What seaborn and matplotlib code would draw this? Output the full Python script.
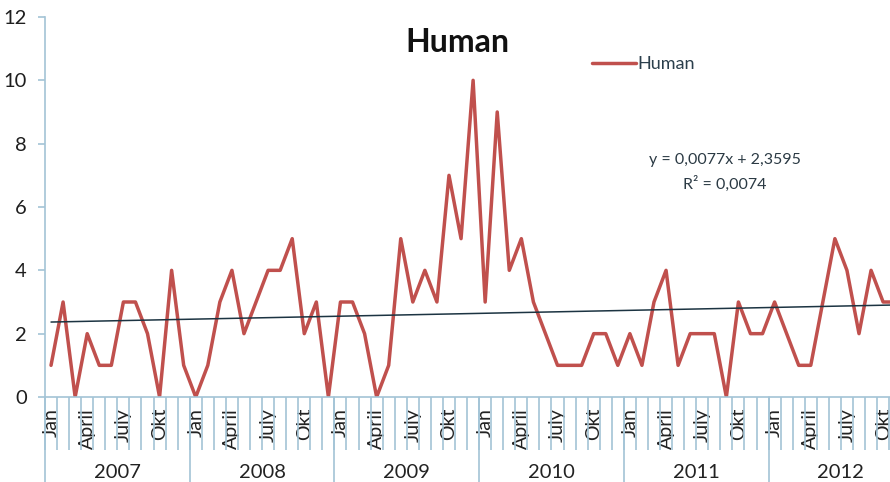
import numpy as np
import pandas as pd
import matplotlib
matplotlib.use("Agg")
import matplotlib.pyplot as plt
import matplotlib.transforms as mtransforms
import seaborn as sns

# ---- data ----
years = ["2007", "2008", "2009", "2010", "2011", "2012"]
month_labels = ["Jan", "April", "July", "Okt"]
values_2007 = [1, 3, 0, 2, 1, 1, 3, 3, 2, 0, 4, 1]
values_2008 = [0, 1, 3, 4, 2, 3, 4, 4, 5, 2, 3, 0]
values_2009 = [3, 3, 2, 0, 1, 5, 3, 4, 3, 7, 5, 10]
values_2010 = [3, 9, 4, 5, 3, 2, 1, 1, 1, 2, 2, 1]
values_2011 = [2, 1, 3, 4, 1, 2, 2, 2, 0, 3, 2, 2]
values_2012 = [3, 2, 1, 1, 3, 5, 4, 2, 4, 3, 3]
trend_slope = [0.0077]
trend_intercept = [2.3595]
eq_text = ["y = 0,0077x + 2,3595", "R\u00b2 = 0,0074"]

human = values_2007 + values_2008 + values_2009 + values_2010 + values_2011 + values_2012
df = pd.DataFrame({"idx": np.arange(len(human)), "Human": human})

sns.set_style("white")
plt.rcParams["font.family"] = ["Lato", "DejaVu Sans"]

W, H = 890, 482
fig = plt.figure(figsize=(W / 100, H / 100), dpi=100)
ax = fig.add_axes([45 / W, 85 / H, 845 / W, 380 / H])

axis_col = "#a3c4d6"
red = "#c0504d"

sns.lineplot(data=df, x="idx", y="Human", ax=ax, color=red, linewidth=2.5,
             label="Human", legend=False)

# linear trend line (Excel style, x = 1..72)
tx = np.arange(0, 72)
ty = trend_slope[0] * (tx + 1) + trend_intercept[0]
ax.plot(tx, ty, color="#1c3442", linewidth=1.1, zorder=3)

ax.set_xlabel("")
ax.set_ylabel("")

for s in ["top", "right"]:
    ax.spines[s].set_visible(False)
for s in ["left", "bottom"]:
    ax.spines[s].set_color(axis_col)
    ax.spines[s].set_linewidth(1.2)

ax.set_yticks(np.arange(0, 13, 2))
ax.tick_params(axis="y", length=5, width=1.2, color=axis_col, pad=8,
               labelsize=14.5, labelcolor="#1e1e1e", left=True)

# month labels every 3rd month
n_months = 72
major = np.arange(0, n_months, 3)
ax.set_xticks(major)
ax.set_xticklabels([month_labels[(i // 3) % 4] for i in major], rotation=90,
                   fontsize=14, color="#222222")
ax.tick_params(axis="x", which="major", length=0, pad=8, bottom=True)
ax.set_xticks(np.arange(-0.5, n_months, 1), minor=True)
ax.tick_params(axis="x", which="minor", length=38, width=1.2, color=axis_col, bottom=True)

# year separators and labels
trans = mtransforms.blended_transform_factory(ax.transData, ax.transAxes)
for k, yr in enumerate(years):
    start = k * 12 - 0.5
    ax.plot([start, start], [0, -0.25], transform=trans, color=axis_col,
            linewidth=1.2, clip_on=False)
    ax.text(k * 12 + 5.5, -0.2, yr, transform=trans, ha="center", va="center",
            fontsize=14.5, color="#222222")

ax.set_xlim(-0.5, 69.57)
ax.set_ylim(0, 12)

fig.text(457 / W, 1 - 42 / H, "Human", ha="center", va="center",
         fontsize=23, fontweight="bold", color="#111111")

leg = ax.legend(loc="center left", bbox_to_anchor=(585 / W, 1 - 64 / H),
                bbox_transform=fig.transFigure, frameon=False, fontsize=13,
                handlelength=2.4, handletextpad=0.1, borderaxespad=0)
for t in leg.get_texts():
    t.set_color("#2b3f4c")

fig.text(725 / W, 1 - 160 / H, eq_text[0], ha="center", va="center",
         fontsize=11.5, color="#2b3a44")
fig.text(725 / W, 1 - 184 / H, eq_text[1], ha="center", va="center",
         fontsize=11.5, color="#2b3a44")

fig.savefig("out.png", dpi=100)
